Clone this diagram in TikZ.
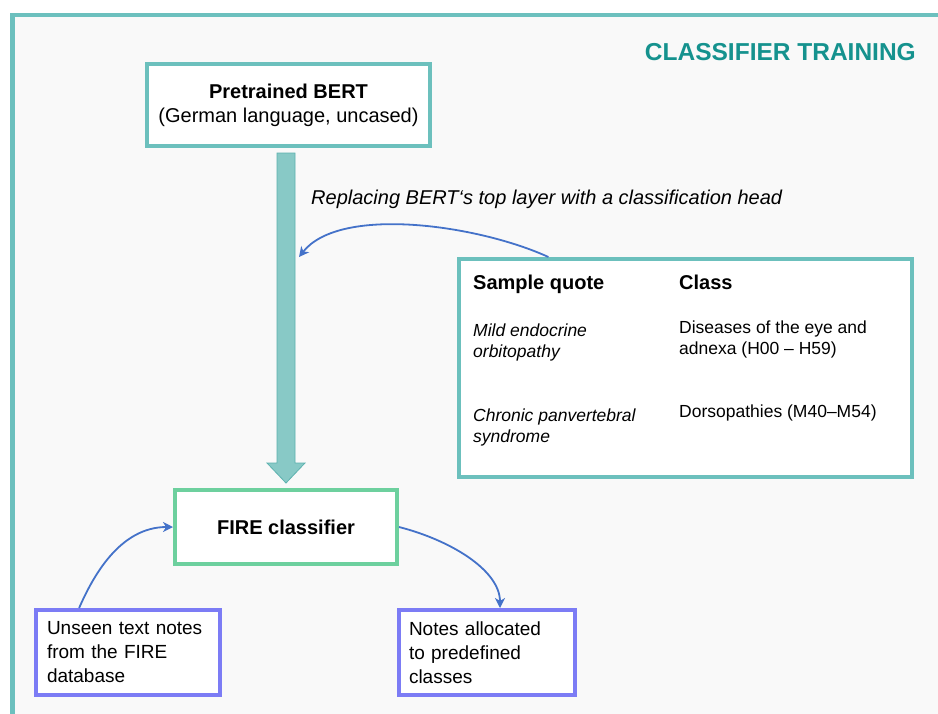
\documentclass[tikz,border=0pt]{standalone}
\usepackage{fontspec}
\setmainfont{Liberation Sans}
\usetikzlibrary{calc,arrows.meta}
\definecolor{rahmen}{HTML}{6CC0BE}
\definecolor{titelfarbe}{HTML}{15928E}
\definecolor{kasten}{HTML}{6CC0BD}
\definecolor{pfeil}{HTML}{88C9C6}
\definecolor{pfeilrand}{HTML}{5DB2AF}
\definecolor{gruen}{HTML}{6DD09E}
\definecolor{lila}{HTML}{7C7CF5}
\definecolor{fluss}{HTML}{4472C9}
\definecolor{grund}{HTML}{F9F9F9}
\tikzset{
  box/.style = {draw, line width=4pt, fill=white, inner sep=0pt},
  kopf/.style = {inner sep=0pt, font=\bfseries\fontsize{20}{24}\selectfont},
  eintrag/.style = {inner sep=0pt, align=left, font=\fontsize{17.5}{21}\selectfont},
  zitat/.style = {eintrag, font=\itshape\fontsize{17.5}{21}\selectfont},
  verlauf/.style = {draw=fluss, line width=1.8pt, -{Stealth[length=10pt,width=10pt,inset=3pt]}},
  dickpfeil/.style = {fill=pfeil, draw=pfeilrand, line width=0.8pt, line join=miter}
}

\begin{document}
\begin{tikzpicture}[x=1pt, y=-1pt]
  \useasboundingbox (0,0) rectangle (938,713);
  \clip (0,0) rectangle (938,713);
  \fill [white] (0,0) rectangle (938,713);
  \draw [rahmen, line width=4.5pt, fill=grund] (12.5,15) rectangle (990,770); %Rahmen
  \node [anchor=base east, inner sep=0pt, text=titelfarbe, font=\bfseries\fontsize{24.5}{28}\selectfont] (titel) at (916,60) {CLASSIFIER TRAINING};

  %Kaesten
  \node [box, draw=kasten, minimum width=283, minimum height=82, align=center, font=\fontsize{20}{24}\selectfont] (bert) at (288.5,105) {\textbf{Pretrained BERT}\\(German language, uncased)};
  \node [box, draw=gruen, minimum width=222, minimum height=74, font=\bfseries\fontsize{20}{24}\selectfont] (fire) at (286,527) {FIRE classifier};
  \node [box, draw=lila, minimum width=184, minimum height=85, inner xsep=11pt, text width=162pt, align=left, font=\fontsize{19}{24}\selectfont] (unseen) at (128,652.5) {Unseen text notes\\from the FIRE\\database};
  \node [box, draw=lila, minimum width=176, minimum height=85, inner xsep=10.5pt, text width=155pt, align=left, font=\fontsize{19}{24}\selectfont] (notes) at (486.5,652.5) {Notes allocated\\to predefined\\classes};
  \node [box, draw=kasten, minimum width=453, minimum height=218] (probe) at (685.5,368) {};

  %Tabelle
  \node [kopf, anchor=base west] (kquote) at (473,289) {Sample quote};
  \node [kopf, anchor=base west] (kclass) at (679,289) {Class};
  \node [zitat, anchor=north west] (quote1) at (473,323.5) {Mild endocrine\\orbitopathy};
  \node [eintrag, anchor=north west] (class1) at (679,320.5) {Diseases of the eye and\\adnexa (H00 – H59)};
  \node [zitat, anchor=north west] (quote2) at (473,408.5) {Chronic panvertebral\\syndrome};
  \node [eintrag, anchor=north west] (class2) at (679,404.5) {Dorsopathies (M40–M54)};

  %dicker Pfeil
  \coordinate (ps) at ($(bert.south -| fire.north)+(0,5)$);
  \coordinate (pt) at ($(fire.north)+(0,-5)$);
  \draw [dickpfeil] ($(ps)+(-9,0)$) -- ($(pt)+(-9,-20)$) -- ($(pt)+(-19,-20)$) -- (pt)
     -- ($(pt)+(19,-20)$) -- ($(pt)+(9,-20)$) -- ($(ps)+(9,0)$) -- cycle;
  \node [anchor=base west, inner sep=0pt, font=\itshape\fontsize{20}{24}\selectfont] (ersatz) at (311,204) {Replacing BERT‘s top layer with a classification head};

  %Verbindungen
  \coordinate (haken) at ($(ps)+(13,104)$);
  \coordinate (qstart) at ($(probe.north west)!0.2!(probe.north east)$);
  \coordinate (ustart) at ($(unseen.north west)!0.24!(unseen.north east)$);
  \coordinate (nziel) at ($(notes.north west)!0.575!(notes.north east)$);
  \draw [verlauf] (qstart) .. controls +(-70,-32) and +(41,-52) .. (haken);
  \draw [verlauf] (ustart) .. controls +(14,-32) and +(-53,0) .. (fire.west);
  \draw [verlauf] (fire.east) .. controls +(51,13) and +(0,-38) .. (nziel);
\end{tikzpicture}
\end{document}
